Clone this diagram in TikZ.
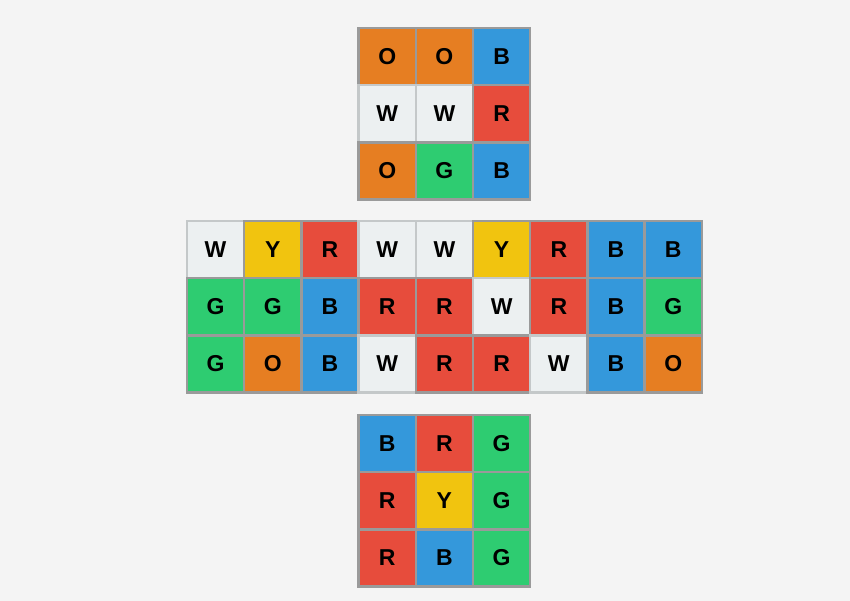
\documentclass[tikz,border=0pt]{standalone}
\usepackage{fontspec}
\setmainfont{Liberation Sans}
\usepackage{xcolor}
\definecolor{pagebg}{HTML}{F4F4F4}
\definecolor{edgegray}{HTML}{9A9A9A}
\definecolor{edgelight}{HTML}{C4C8C9}
\definecolor{cubeO}{HTML}{E67E22}
\definecolor{cubeB}{HTML}{3498DB}
\definecolor{cubeR}{HTML}{E74C3C}
\definecolor{cubeW}{HTML}{ECF0F1}
\definecolor{cubeG}{HTML}{2ECC71}
\definecolor{cubeY}{HTML}{F1C40F}

\begin{document}
\begin{tikzpicture}[
    x=1pt, y=-1pt,
    sticker/.style={rectangle, draw=edgegray, line width=2.4pt, minimum size=57.2pt, inner sep=0pt, font=\fontsize{23}{27}\selectfont\bfseries},
    faceO/.style={fill=cubeO},
    faceB/.style={fill=cubeB},
    faceR/.style={fill=cubeR},
    faceW/.style={fill=cubeW, draw=edgelight},
    faceG/.style={fill=cubeG},
    faceY/.style={fill=cubeY}
]
\fill[pagebg] (0,0) rectangle (850,601);
% top face
\foreach \row/\cells in {1/{O,O,B},2/{W,W,R},3/{O,G,B}}
  \foreach \c [count=\col] in \cells
    \node[sticker, face\c] (top-\row-\col) at ({187+57.2*(\col+2)+28.6}, {28+57.2*(\row-1)+28.6}) {\c};
% middle belt
\foreach \row/\cells in {1/{W,Y,R,W,W,Y,R,B,B},2/{G,G,B,R,R,W,R,B,G},3/{G,O,B,W,R,R,W,B,O}}
  \foreach \c [count=\col] in \cells
    \node[sticker, face\c] (mid-\row-\col) at ({187+57.2*(\col-1)+28.6}, {221+57.2*(\row-1)+28.6}) {\c};
% bottom face
\foreach \row/\cells in {1/{B,R,G},2/{R,Y,G},3/{R,B,G}}
  \foreach \c [count=\col] in \cells
    \node[sticker, face\c] (bot-\row-\col) at ({187+57.2*(\col+2)+28.6}, {415+57.2*(\row-1)+28.6}) {\c};
\end{tikzpicture}
\end{document}
